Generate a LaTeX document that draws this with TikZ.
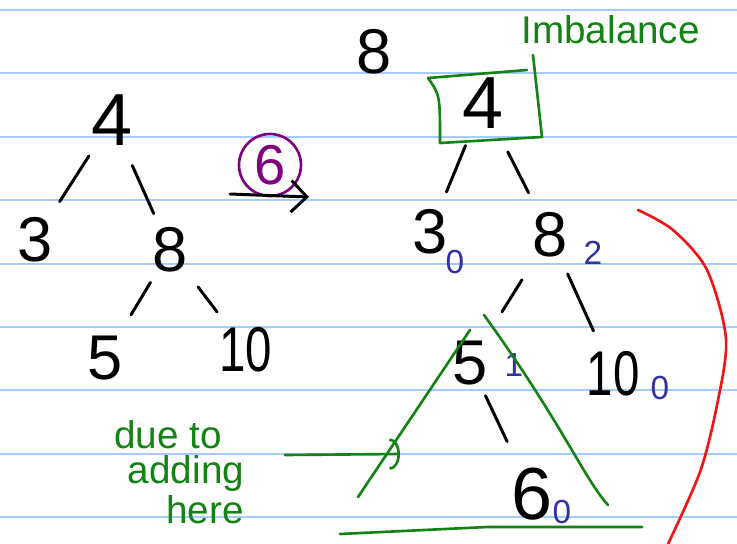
\documentclass[tikz,border=0pt]{standalone}
\usepackage{fontspec}
\setmainfont{Liberation Sans}
\usetikzlibrary{arrows.meta,calc}
\definecolor{ruleblue}{RGB}{166,204,250}
\definecolor{inkgreen}{RGB}{20,130,20}
\definecolor{inkblue}{RGB}{50,50,165}
\definecolor{inkpurple}{RGB}{128,0,128}
\definecolor{inkred}{RGB}{240,20,20}
\tikzset{
  num/.style={font=\fontsize{36}{36}\selectfont, inner sep=0pt},
  bignum/.style={font=\fontsize{42}{42}\selectfont, inner sep=0pt},
  bal/.style={text=inkblue, font=\fontsize{19}{19}\selectfont, inner sep=0pt},
  note/.style={text=inkgreen, font=\fontsize{22}{24}\selectfont, inner sep=0pt},
}
\begin{document}
\begin{tikzpicture}[x=0.02cm, y=-0.02cm, line width=1.7pt, line cap=round, line join=round]
  \useasboundingbox (0,0) rectangle (737,544);
  \fill[white] (0,0) rectangle (737,544);
  % ruled paper
  \foreach \k in {0,...,8}
    \draw[ruleblue, line width=1.2pt] (0,{10+63.4*\k}) -- (737,{10+63.4*\k});
  % tree before the insert
  \node[bignum] (l4) at (112,120) {4};
  \node[num] (l3) at (35,240) {3};
  \node[num] (l8) at (170,250) {8};
  \node[num] (l5) at (105,358) {5};
  \node[num] (l10) at (246,350) {\scalebox{0.75}[1]{10}};
  \draw ($(l4)!0.30!(l3)$) -- ($(l4)!0.68!(l3)$);
  \draw ($(l4)!0.35!(l8)$) -- ($(l4)!0.72!(l8)$);
  \draw ($(l8)!0.30!(l5)$) -- ($(l8)!0.60!(l5)$);
  \draw ($(l8)!0.37!(l10)$) -- ($(l8)!0.62!(l10)$);
  % value inserted
  \node[num, text=inkpurple, font=\fontsize{32}{32}\selectfont] (ins) at (270,165) {6};
  \draw[inkpurple, line width=1.5pt] (ins) circle (0.62cm);
  \coordinate (go) at (230,194);
  \coordinate (gone) at (309,197);
  \draw[-{Straight Barb[length=9pt, width=18pt]}] (go) -- (gone);
  \node[num] (top8) at (374,52) {8};
  % tree after the insert
  \node[bignum] (r4) at (483,103) {4};
  \node[num] (r3) at (430,232) {3};
  \node[num] (r8) at (550,235) {8};
  \node[num] (r5) at (470,363) {5};
  \node[num] (r10) at (613,374) {\scalebox{0.75}[1]{10}};
  \node[bignum] (r6) at (532,494) {6};
  \draw ($(r4)!0.33!(r3)$) -- ($(r4)!0.69!(r3)$);
  \draw ($(r4)!0.37!(r8)$) -- ($(r4)!0.68!(r8)$);
  \draw ($(r8)!0.35!(r5)$) -- ($(r8)!0.60!(r5)$);
  \draw ($(r8)!0.28!(r10)$) -- ($(r8)!0.69!(r10)$);
  \draw ($(r5)!0.25!(r6)$) -- ($(r5)!0.60!(r6)$);
  % balance factors
  \node[bal] (b3) at (455,262) {0};
  \node[bal] (b8) at (593,253) {2};
  \node[bal] (b5) at (514,365) {1};
  \node[bal] (b10) at (660,388) {0};
  \node[bal] (b6) at (562,512) {0};
  % imbalance mark
  \draw[inkgreen, line width=1.5pt] (527,70) -- (428,78) .. controls (440,95) .. (440,143) -- (542,137) -- (533,55);
  \node[note, anchor=west] (imb) at (520,30) {Imbalance};
  % subtree that grew
  \draw[inkgreen, line width=1.5pt] (470,330) -- (358,497);
  \draw[inkgreen, line width=1.5pt] (484,315) .. controls (560,420) and (585,480) .. (608,505);
  \draw[inkgreen, line width=1.5pt] (340,534) -- (487,527) -- (642,527);
  \node[note] (due) at (168,435) {due to};
  \node[note] (adding) at (186,474) {adding};
  \node[note] (here) at (205,510) {here};
  \coordinate (cause) at (285,455);
  \coordinate (grew) at (400,454);
  \draw[inkgreen, line width=1.5pt, -{Arc Barb[length=6pt, width=18pt]}] (cause) -- (grew);
  % right side bracket
  \draw[inkred, line width=1.5pt] plot[smooth] coordinates {(638,210) (673,230) (707,270) (726,339) (717,405) (700,472) (668,544)};
\end{tikzpicture}
\end{document}
